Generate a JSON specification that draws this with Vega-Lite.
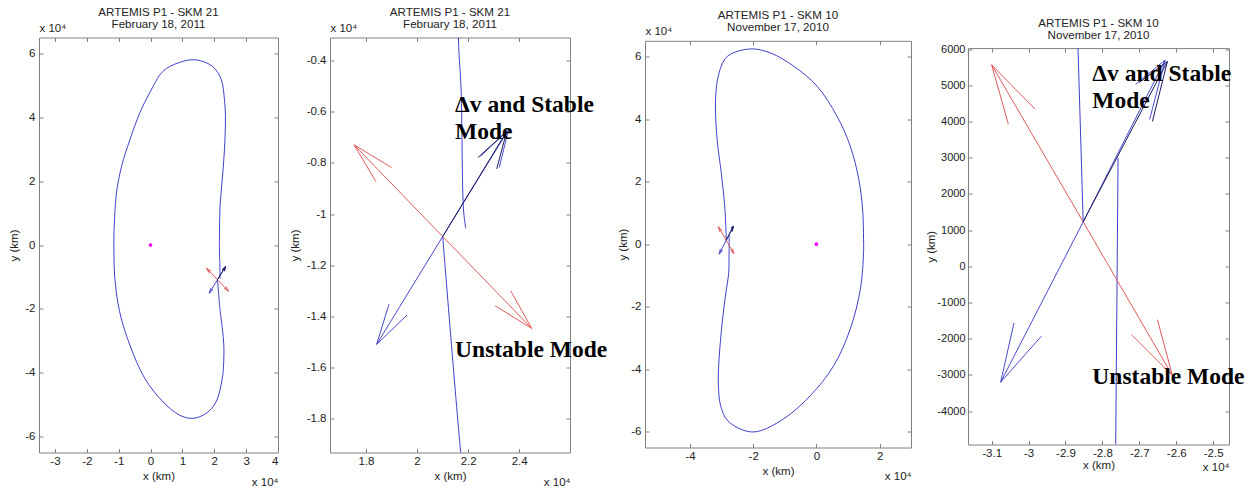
{
  "$schema": "https://vega.github.io/schema/vega-lite/v6.json",
  "background": "white",
  "padding": {"left": 8, "top": 4.5, "right": 0, "bottom": 0},
  "spacing": 13,
  "config": {
    "view": {"stroke": "#808080", "strokeWidth": 1},
    "axis": {
      "labelFont": "Liberation Sans", "labelFontSize": 11.5, "labelColor": "#222222",
      "titleFont": "Liberation Sans", "titleFontSize": 11.5, "titleFontWeight": "normal", "titleColor": "#222222",
      "domain": false, "domainColor": "#808080", "grid": false, "tickColor": "#808080", "tickSize": -4, "ticks": true
    }
  },
  "datasets": {
    "orbit12": [
      {"i": 0, "x": 21004, "y": -10877}, {"i": 1, "x": 21710, "y": -19330}, {"i": 2, "x": 21950, "y": -21500},
      {"i": 3, "x": 22500, "y": -26000}, {"i": 4, "x": 23000, "y": -31300}, {"i": 5, "x": 22900, "y": -38000},
      {"i": 6, "x": 22500, "y": -41800}, {"i": 7, "x": 20600, "y": -49100}, {"i": 8, "x": 17500, "y": -52700},
      {"i": 9, "x": 13300, "y": -54300}, {"i": 10, "x": 9100, "y": -53300}, {"i": 11, "x": 3900, "y": -49100},
      {"i": 12, "x": -1800, "y": -41800}, {"i": 13, "x": -6500, "y": -31300}, {"i": 14, "x": -9700, "y": -20900},
      {"i": 15, "x": -11200, "y": -10400}, {"i": 16, "x": -11500, "y": 0}, {"i": 17, "x": -11400, "y": 5800},
      {"i": 18, "x": -10700, "y": 16200}, {"i": 19, "x": -9100, "y": 24600}, {"i": 20, "x": -6500, "y": 32900},
      {"i": 21, "x": -3400, "y": 41300}, {"i": 22, "x": -300, "y": 47600}, {"i": 23, "x": 3900, "y": 54400},
      {"i": 24, "x": 9100, "y": 57200}, {"i": 25, "x": 14300, "y": 58000}, {"i": 26, "x": 19500, "y": 55900},
      {"i": 27, "x": 22200, "y": 51800}, {"i": 28, "x": 23200, "y": 45500}, {"i": 29, "x": 23500, "y": 40300},
      {"i": 30, "x": 23200, "y": 29800}, {"i": 31, "x": 22500, "y": 20400}, {"i": 32, "x": 21800, "y": 12000},
      {"i": 33, "x": 21650, "y": 4000}, {"i": 34, "x": 21620, "y": -3090}, {"i": 35, "x": 21725, "y": -5140},
      {"i": 36, "x": 21820, "y": -9840}, {"i": 37, "x": 21906, "y": -10556}
    ],
    "arrows12": [
      {"kind": "unstable", "x": 21004, "y": -10877, "x2": 17530, "y2": -7290},
      {"kind": "unstable", "x": 17530, "y": -7290, "x2": 19004, "y2": -8180},
      {"kind": "unstable", "x": 17530, "y": -7290, "x2": 18390, "y2": -8730},
      {"kind": "unstable", "x": 21004, "y": -10877, "x2": 24490, "y2": -14474},
      {"kind": "unstable", "x": 24490, "y": -14474, "x2": 23060, "y2": -13590},
      {"kind": "unstable", "x": 24490, "y": -14474, "x2": 23670, "y2": -13010},
      {"kind": "stable", "x": 21004, "y": -10877, "x2": 18416, "y2": -15100},
      {"kind": "stable", "x": 18416, "y": -15100, "x2": 18900, "y2": -13530},
      {"kind": "stable", "x": 18416, "y": -15100, "x2": 19610, "y2": -13950},
      {"kind": "stable", "x": 21004, "y": -10877, "x2": 23580, "y2": -6700},
      {"kind": "stable", "x": 23580, "y": -6700, "x2": 22480, "y2": -7740},
      {"kind": "stable", "x": 23580, "y": -6700, "x2": 23220, "y2": -8180},
      {"kind": "dv", "x": 21004, "y": -10877, "x2": 23510, "y2": -6770},
      {"kind": "dv", "x": 23510, "y": -6770, "x2": 22380, "y2": -7790},
      {"kind": "dv", "x": 23510, "y": -6770, "x2": 23120, "y2": -8230}
    ],
    "orbit3": [
      {"i": 0, "x": -27575, "y": 2992}, {"i": 1, "x": -27639, "y": -4920}, {"i": 2, "x": -27720, "y": -9000},
      {"i": 3, "x": -28900, "y": -17500}, {"i": 4, "x": -30100, "y": -28200}, {"i": 5, "x": -30900, "y": -38800},
      {"i": 6, "x": -31000, "y": -45200}, {"i": 7, "x": -30300, "y": -51600}, {"i": 8, "x": -28200, "y": -56300},
      {"i": 9, "x": -23000, "y": -59500}, {"i": 10, "x": -18700, "y": -59900}, {"i": 11, "x": -10300, "y": -55800},
      {"i": 12, "x": -1900, "y": -48400}, {"i": 13, "x": 5500, "y": -38800}, {"i": 14, "x": 10700, "y": -27100},
      {"i": 15, "x": 13900, "y": -14300}, {"i": 16, "x": 14900, "y": -2600}, {"i": 17, "x": 14900, "y": 1600},
      {"i": 18, "x": 14600, "y": 11200}, {"i": 19, "x": 13400, "y": 20700}, {"i": 20, "x": 10700, "y": 31300},
      {"i": 21, "x": 6500, "y": 40900}, {"i": 22, "x": 200, "y": 50500}, {"i": 23, "x": -7200, "y": 56900},
      {"i": 24, "x": -14500, "y": 61100}, {"i": 25, "x": -20800, "y": 62400}, {"i": 26, "x": -28200, "y": 60000},
      {"i": 27, "x": -30800, "y": 54700}, {"i": 28, "x": -31900, "y": 46200}, {"i": 29, "x": -31400, "y": 33500},
      {"i": 30, "x": -30100, "y": 22900}, {"i": 31, "x": -29000, "y": 12200}, {"i": 32, "x": -28660, "y": 6030},
      {"i": 33, "x": -28520, "y": 1230}
    ],
    "orbit4": [
      {"seg": "a", "i": 0, "x": -28660, "y": 6030}, {"seg": "a", "i": 1, "x": -28520, "y": 1230},
      {"seg": "b", "i": 0, "x": -27575, "y": 2992}, {"seg": "b", "i": 1, "x": -27639, "y": -4920}
    ],
    "arrows34": [
      {"kind": "unstable", "x": -28520, "y": 1230, "x2": -31000, "y2": 5568},
      {"kind": "unstable", "x": -31000, "y": 5568, "x2": -29825, "y2": 4344},
      {"kind": "unstable", "x": -31000, "y": 5568, "x2": -30548, "y2": 3930},
      {"kind": "unstable", "x": -28520, "y": 1230, "x2": -26103, "y2": -3016},
      {"kind": "unstable", "x": -26103, "y": -3016, "x2": -27214, "y2": -1884},
      {"kind": "unstable", "x": -26103, "y": -3016, "x2": -26509, "y2": -1470},
      {"kind": "stable", "x": -28520, "y": 1230, "x2": -30756, "y2": -3200},
      {"kind": "stable", "x": -30756, "y": -3200, "x2": -30395, "y2": -1562},
      {"kind": "stable", "x": -30756, "y": -3200, "x2": -29654, "y2": -1930},
      {"kind": "stable", "x": -28520, "y": 1230, "x2": -26300, "y2": 5700},
      {"kind": "stable", "x": -26300, "y": 5700, "x2": -27100, "y2": 5030},
      {"kind": "stable", "x": -26300, "y": 5700, "x2": -26720, "y2": 4060},
      {"kind": "dv", "x": -28520, "y": 1230, "x2": -26238, "y2": 5660},
      {"kind": "dv", "x": -26238, "y": 5660, "x2": -27006, "y2": 5080},
      {"kind": "dv", "x": -26238, "y": 5660, "x2": -26645, "y2": 4004}
    ],
    "primary": [{"x": 0, "y": 0}],
    "texts2": [
      {"x": 21490, "y": -5987, "label": "Δv and Stable\nMode"},
      {"x": 21490, "y": -15610, "label": "Unstable Mode"}
    ],
    "texts4": [
      {"x": -28271, "y": 5126, "label": "Δv and Stable\nMode"},
      {"x": -28271, "y": -3246, "label": "Unstable Mode"}
    ]
  },
  "hconcat": [
    {
      "spacing": 9,
      "hconcat": [
        {
          "width": 239, "height": 415,
          "title": {"text": " ", "fontSize": 1, "subtitle": ["ARTEMIS P1 - SKM 21", "February 18, 2011"], "subtitleFont": "Liberation Sans", "subtitleFontSize": 11.6, "subtitleColor": "#222222", "subtitleLineHeight": 12, "subtitlePadding": 0, "offset": -8, "anchor": "middle", "frame": "group"},
          "resolve": {"scale": {"x": "independent", "y": "independent"}},
          "layer": [
            {
              "encoding": {
                "x": {"field": "x", "type": "quantitative", "scale": {"domain": [-35000, 40000], "nice": false, "zero": false},
                      "axis": {"values": [-30000, -20000, -10000, 0, 10000, 20000, 30000, 40000], "labelExpr": "'' + datum.value / 10000", "title": "x (km)", "labelPadding": 7, "titlePadding": 3}},
                "y": {"field": "y", "type": "quantitative", "scale": {"domain": [-65000, 65000], "nice": false, "zero": false},
                      "axis": {"values": [-60000, -40000, -20000, 0, 20000, 40000, 60000], "labelExpr": "'' + datum.value / 10000", "title": "y (km)", "labelPadding": 8, "titlePadding": 5}}
              },
              "layer": [
                {"data": {"name": "orbit12"}, "mark": {"type": "line", "color": "#4040cc", "strokeWidth": 1, "interpolate": "catmull-rom", "clip": true}, "encoding": {"order": {"field": "i", "type": "quantitative"}}},
                {"data": {"name": "arrows12"}, "mark": {"type": "rule", "strokeWidth": 1, "clip": true},
                 "encoding": {"x2": {"field": "x2"}, "y2": {"field": "y2"}, "color": {"field": "kind", "type": "nominal", "scale": {"domain": ["unstable", "stable", "dv"], "range": ["#e05a5a", "#4a4ad0", "#1a1a60"]}, "legend": null}}},
                {"data": {"name": "primary"}, "mark": {"type": "point", "filled": true, "color": "#ff00ff", "size": 14, "opacity": 1, "clip": true}}
              ]
            },
            {
              "data": {"name": "primary"},
              "mark": {"type": "point", "opacity": 0, "clip": true},
              "encoding": {
                "x": {"field": "x", "type": "quantitative", "scale": {"domain": [-35000, 40000], "nice": false, "zero": false},
                      "axis": {"orient": "top", "labels": false, "values": [-30000, -20000, -10000, 0, 10000, 20000, 30000, 40000], "title": "x 10⁴", "titleX": 0, "titleY": -6, "titleAlign": "left", "titleBaseline": "alphabetic", "titleAngle": 0}},
                "y": {"field": "y", "type": "quantitative", "scale": {"domain": [-65000, 65000], "nice": false, "zero": false},
                      "axis": {"orient": "right", "labels": false, "values": [-60000, -40000, -20000, 0, 20000, 40000, 60000], "title": "x 10⁴", "titleAngle": 0, "titleX": 0, "titleY": 447.7, "titleAlign": "right", "titleBaseline": "alphabetic"}}
              }
            }
          ]
        },
        {
          "width": 240, "height": 415,
          "title": {"text": " ", "fontSize": 1, "subtitle": ["ARTEMIS P1 - SKM 21", "February 18, 2011"], "subtitleFont": "Liberation Sans", "subtitleFontSize": 11.6, "subtitleColor": "#222222", "subtitleLineHeight": 12, "subtitlePadding": 0, "offset": -8, "anchor": "middle", "frame": "group"},
          "resolve": {"scale": {"x": "independent", "y": "independent"}},
          "layer": [
            {
              "encoding": {
                "x": {"field": "x", "type": "quantitative", "scale": {"domain": [16590, 25990], "nice": false, "zero": false},
                      "axis": {"values": [18000, 20000, 22000, 24000], "labelExpr": "'' + datum.value / 10000", "title": "x (km)", "labelPadding": 7, "titlePadding": 3}},
                "y": {"field": "y", "type": "quantitative", "scale": {"domain": [-19330, -3090], "nice": false, "zero": false},
                      "axis": {"values": [-18000, -16000, -14000, -12000, -10000, -8000, -6000, -4000], "labelExpr": "'' + datum.value / 10000", "title": "y (km)", "labelPadding": 8, "titlePadding": 6}}
              },
              "layer": [
                {"data": {"name": "orbit12"}, "mark": {"type": "line", "color": "#4040cc", "strokeWidth": 1, "interpolate": "catmull-rom", "clip": true}, "encoding": {"order": {"field": "i", "type": "quantitative"}}},
                {"data": {"name": "arrows12"}, "mark": {"type": "rule", "strokeWidth": 1, "clip": true},
                 "encoding": {"x2": {"field": "x2"}, "y2": {"field": "y2"}, "color": {"field": "kind", "type": "nominal", "scale": {"domain": ["unstable", "stable", "dv"], "range": ["#e05a5a", "#4a4ad0", "#1a1a60"]}, "legend": null}}},
                {"data": {"name": "texts2"}, "mark": {"type": "text", "align": "left", "baseline": "alphabetic", "font": "Liberation Serif", "fontWeight": "bold", "fontSize": 23.5, "lineHeight": 27, "lineBreak": "\n", "color": "#000000"},
                 "encoding": {"text": {"field": "label", "type": "nominal"}}}
              ]
            },
            {
              "data": {"name": "primary"},
              "mark": {"type": "point", "opacity": 0, "clip": true},
              "encoding": {
                "x": {"field": "x", "type": "quantitative", "scale": {"domain": [16590, 25990], "nice": false, "zero": false},
                      "axis": {"orient": "top", "labels": false, "values": [18000, 20000, 22000, 24000], "title": "x 10⁴", "titleX": 0, "titleY": -6, "titleAlign": "left", "titleBaseline": "alphabetic", "titleAngle": 0}},
                "y": {"field": "y", "type": "quantitative", "scale": {"domain": [-19330, -3090], "nice": false, "zero": false},
                      "axis": {"orient": "right", "labels": false, "values": [-18000, -16000, -14000, -12000, -10000, -8000, -6000, -4000], "title": "x 10⁴", "titleAngle": 0, "titleX": 0, "titleY": 447.7, "titleAlign": "right", "titleBaseline": "alphabetic"}}
              }
            }
          ]
        },
        {
          "width": 266, "height": 410,
          "view": {"stroke": null},
          "title": {"text": " ", "fontSize": 1, "subtitle": ["ARTEMIS P1 - SKM 10", "November 17, 2010"], "subtitleFont": "Liberation Sans", "subtitleFontSize": 11.6, "subtitleColor": "#222222", "subtitleLineHeight": 12, "subtitlePadding": 0, "offset": -8, "anchor": "middle", "frame": "group"},
          "resolve": {"scale": {"x": "independent", "y": "independent"}},
          "layer": [
            {
              "encoding": {
                "x": {"field": "x", "type": "quantitative", "scale": {"domain": [-54200, 29900], "nice": false, "zero": false},
                      "axis": {"domain": true, "values": [-40000, -20000, 0, 20000], "labelExpr": "'' + datum.value / 10000", "title": "x (km)", "labelPadding": 7, "titlePadding": 3}},
                "y": {"field": "y", "type": "quantitative", "scale": {"domain": [-65000, 65000], "range": [410, 3.3], "nice": false, "zero": false},
                      "axis": {"domain": true, "values": [-60000, -40000, -20000, 0, 20000, 40000, 60000], "labelExpr": "'' + datum.value / 10000", "title": "y (km)", "labelPadding": 8, "titlePadding": 2}}
              },
              "layer": [
                {"data": {"name": "orbit3"}, "mark": {"type": "line", "color": "#4040cc", "strokeWidth": 1, "interpolate": "catmull-rom", "clip": true}, "encoding": {"order": {"field": "i", "type": "quantitative"}}},
                {"data": {"name": "arrows34"}, "mark": {"type": "rule", "strokeWidth": 1, "clip": true},
                 "encoding": {"x2": {"field": "x2"}, "y2": {"field": "y2"}, "color": {"field": "kind", "type": "nominal", "scale": {"domain": ["unstable", "stable", "dv"], "range": ["#e05a5a", "#4a4ad0", "#1a1a60"]}, "legend": null}}},
                {"data": {"name": "primary"}, "mark": {"type": "point", "filled": true, "color": "#ff00ff", "size": 14, "opacity": 1, "clip": true}}
              ]
            },
            {
              "data": {"name": "primary"},
              "mark": {"type": "point", "opacity": 0, "clip": true},
              "encoding": {
                "x": {"field": "x", "type": "quantitative", "scale": {"domain": [-54200, 29900], "nice": false, "zero": false},
                      "axis": {"orient": "top", "offset": -3.3, "domain": true, "labels": false, "values": [-40000, -20000, 0, 20000], "title": "x 10⁴", "titleX": 0, "titleY": -6, "titleAlign": "left", "titleBaseline": "alphabetic", "titleAngle": 0}},
                "y": {"field": "y", "type": "quantitative", "scale": {"domain": [-65000, 65000], "range": [410, 3.3], "nice": false, "zero": false},
                      "axis": {"orient": "right", "domain": true, "labels": false, "values": [-60000, -40000, -20000, 0, 20000, 40000, 60000], "title": "x 10⁴", "titleAngle": 0, "titleX": 0, "titleY": 442.3, "titleAlign": "right", "titleBaseline": "alphabetic"}}
              }
            }
          ]
        }
      ]
    },
    {
      "width": 261, "height": 407,
      "view": {"stroke": null},
      "title": {"text": " ", "fontSize": 1, "subtitle": ["ARTEMIS P1 - SKM 10", "November 17, 2010"], "subtitleFont": "Liberation Sans", "subtitleFontSize": 11.6, "subtitleColor": "#222222", "subtitleLineHeight": 12, "subtitlePadding": 0, "offset": -4.5, "anchor": "middle", "frame": "group"},
      "resolve": {"scale": {"x": "independent", "y": "independent"}},
      "layer": [
        {
          "encoding": {
            "x": {"field": "x", "type": "quantitative", "scale": {"domain": [-31640, -24570], "nice": false, "zero": false},
                  "axis": {"domain": true, "values": [-31000, -30000, -29000, -28000, -27000, -26000, -25000], "labelExpr": "'' + datum.value / 10000", "title": "x (km)", "labelPadding": 7, "titlePadding": 0}},
            "y": {"field": "y", "type": "quantitative", "scale": {"domain": [-4920, 6030], "range": [407, 10.6], "nice": false, "zero": false},
                  "axis": {"domain": true, "values": [-4000, -3000, -2000, -1000, 0, 1000, 2000, 3000, 4000, 5000, 6000], "labelExpr": "'' + datum.value", "labelFontSize": 11, "title": "y (km)", "labelPadding": 7, "titlePadding": 0}}
          },
          "layer": [
            {"data": {"name": "orbit4"}, "mark": {"type": "line", "color": "#4040cc", "strokeWidth": 1, "clip": true}, "encoding": {"detail": {"field": "seg", "type": "nominal"}, "order": {"field": "i", "type": "quantitative"}}},
            {"data": {"name": "arrows34"}, "mark": {"type": "rule", "strokeWidth": 1, "clip": true},
             "encoding": {"x2": {"field": "x2"}, "y2": {"field": "y2"}, "color": {"field": "kind", "type": "nominal", "scale": {"domain": ["unstable", "stable", "dv"], "range": ["#e05a5a", "#4a4ad0", "#1a1a60"]}, "legend": null}}},
            {"data": {"name": "texts4"}, "mark": {"type": "text", "align": "left", "baseline": "alphabetic", "font": "Liberation Serif", "fontWeight": "bold", "fontSize": 23.5, "lineHeight": 27, "lineBreak": "\n", "color": "#000000"},
             "encoding": {"text": {"field": "label", "type": "nominal"}}}
          ]
        },
        {
          "data": {"name": "primary"},
          "mark": {"type": "point", "opacity": 0, "clip": true},
          "encoding": {
            "x": {"field": "x", "type": "quantitative", "scale": {"domain": [-31640, -24570], "nice": false, "zero": false},
                  "axis": {"orient": "top", "offset": -10.6, "domain": true, "labels": false, "values": [-31000, -30000, -29000, -28000, -27000, -26000, -25000], "title": null}},
            "y": {"field": "y", "type": "quantitative", "scale": {"domain": [-4920, 6030], "range": [407, 10.6], "nice": false, "zero": false},
                  "axis": {"orient": "right", "domain": true, "labels": false, "values": [-4000, -3000, -2000, -1000, 0, 1000, 2000, 3000, 4000, 5000, 6000], "title": "x 10⁴", "titleAngle": 0, "titleX": 0, "titleY": 433.3, "titleAlign": "right", "titleBaseline": "alphabetic"}}
          }
        }
      ]
    }
  ]
}
